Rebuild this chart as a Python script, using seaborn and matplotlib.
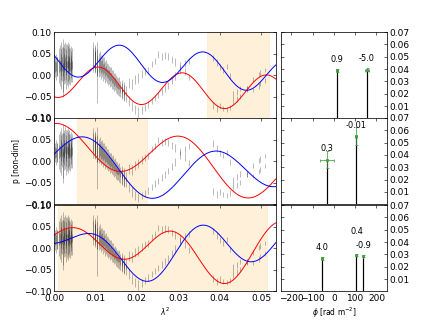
import numpy as np
import matplotlib
matplotlib.use("Agg")
import matplotlib.pyplot as plt
import seaborn as sns

# ---------------- data ----------------
# channel cluster 1
lam_c1 = [0.0002, 0.0005, 0.0008, 0.0012, 0.0014, 0.0016, 0.0018, 0.0019, 0.0021, 0.0022,
          0.0024, 0.0025, 0.0027, 0.0028, 0.0030, 0.0031, 0.0033, 0.0034, 0.0036, 0.0037,
          0.0039, 0.0040, 0.0042, 0.0044]
q_c1 = [0.025, 0.030, 0.020, 0.035, 0.040, 0.030, 0.045, 0.038, 0.050, 0.032,
        0.042, 0.036, 0.048, 0.040, 0.030, 0.044, 0.038, 0.046, 0.034, 0.042,
        0.036, 0.040, 0.030, 0.038]
u_c1 = [0.015, 0.010, 0.020, 0.010, 0.005, 0.020, 0.000, 0.015, -0.015, -0.005,
        0.020, 0.008, 0.012, 0.000, 0.018, 0.006, 0.014, 0.002, 0.016, 0.010,
        0.004, 0.012, 0.020, 0.008]
e_c1 = [0.018, 0.020, 0.022, 0.028, 0.030, 0.030, 0.032, 0.028, 0.035, 0.034,
        0.030, 0.028, 0.030, 0.032, 0.030, 0.028, 0.030, 0.030, 0.028, 0.030,
        0.026, 0.028, 0.026, 0.024]

# channel cluster 2
lam_c2 = [0.0095, 0.0098, 0.0100, 0.0103, 0.0105, 0.0108, 0.0110, 0.0113, 0.0115, 0.0118,
          0.0120, 0.0123, 0.0125, 0.0128, 0.0130, 0.0133, 0.0135, 0.0138, 0.0140, 0.0143,
          0.0145, 0.0148, 0.0150, 0.0153, 0.0155, 0.0158, 0.0160, 0.0163, 0.0165, 0.0168,
          0.0170, 0.0173]
q_c2 = [0.048, 0.040, 0.044, 0.036, 0.038, 0.030, 0.034, 0.026, 0.028, 0.022,
        0.024, 0.016, 0.018, 0.012, 0.010, 0.006, 0.002, 0.004, -0.004, -0.002,
        -0.010, -0.008, -0.014, -0.016, -0.020, -0.018, -0.026, -0.024, -0.030, -0.028,
        -0.034, -0.036]
u_c2 = [0.036, 0.030, 0.032, 0.022, -0.025, 0.018, 0.020, 0.012, 0.016, 0.006,
        0.010, 0.000, 0.004, -0.002, -0.006, -0.004, -0.012, -0.010, -0.016, -0.018,
        -0.022, -0.020, -0.028, -0.030, -0.032, -0.036, -0.038, -0.040, -0.044, -0.046,
        -0.048, -0.050]
e_c2 = [0.028, 0.026, 0.025, 0.024, 0.040, 0.022, 0.022, 0.021, 0.020, 0.020,
        0.019, 0.018, 0.018, 0.017, 0.017, 0.016, 0.016, 0.015, 0.015, 0.015,
        0.014, 0.014, 0.014, 0.013, 0.013, 0.013, 0.012, 0.012, 0.012, 0.012,
        0.011, 0.011]

# sparse channels
lam_s = [0.0180, 0.0188, 0.0196, 0.0203, 0.0212, 0.0220, 0.0226, 0.0236, 0.0244, 0.0252,
         0.0260, 0.0268, 0.0276, 0.0284, 0.0292, 0.0304, 0.0316, 0.0325, 0.0385, 0.0393,
         0.0401, 0.0409, 0.0417, 0.0425, 0.0433, 0.0441, 0.0449, 0.0465, 0.0481, 0.0494,
         0.0498, 0.0510]
q_s = [-0.018, -0.020, -0.010, -0.006, 0.002, 0.008, 0.012, 0.027, 0.034, 0.048,
       0.044, 0.046, 0.044, 0.036, 0.030, 0.022, 0.008, -0.004, -0.070, -0.078,
       -0.072, -0.077, -0.080, -0.074, -0.060, -0.055, -0.050, -0.030, -0.010, 0.002,
       0.005, 0.012]
u_s = [-0.060, -0.072, -0.080, -0.085, -0.080, -0.075, -0.068, -0.059, -0.052, -0.046,
       -0.038, -0.031, -0.023, -0.013, -0.002, 0.014, 0.027, 0.034, 0.040, 0.030,
       0.018, 0.012, 0.020, -0.002, -0.045, -0.038, -0.030, -0.032, -0.035, -0.025,
       -0.020, -0.012]
e_s = [0.012, 0.012, 0.011, 0.011, 0.009, 0.008, 0.008, 0.007, 0.007, 0.007,
       0.008, 0.008, 0.008, 0.008, 0.009, 0.009, 0.008, 0.007, 0.008, 0.008,
       0.007, 0.006, 0.006, 0.006, 0.008, 0.007, 0.006, 0.006, 0.005, 0.006,
       0.006, 0.005]

# Faraday components per panel: depth phi [rad m^-2], amplitude p, angle chi [rad]
phi_comp = [[12.5, 155.5], [-33.0, 102.0], [-56.0, 106.0, 137.0]]
amp_comp = [[0.0389, 0.0396], [0.0361, 0.0552], [0.0267, 0.0297, 0.0286]]
chi_comp = [[0.931, -4.827], [0.255, -0.013], [3.643, 0.276, -0.952]]
chi_labels = [["0.9", "-5.0"], ["0.3", "-0.01"], ["4.0", "0.4", "-0.9"]]
phi_err = [[5, 8], [31, 5], [3, 2, 2]]
amp_err = [[0.001, 0.001], [0.007, 0.0075], [0.001, 0.0007, 0.0007]]
fit_ranges = [(0.0370, 0.0520), (0.0055, 0.0225), (0.0010, 0.0515)]

# ---------------- style ----------------
sns.set_style("white")
plt.rcParams.update({
    "font.family": ["DejaVu Sans"],
    "text.color": "black", "axes.labelcolor": "black",
    "xtick.color": "black", "ytick.color": "black",
    "xtick.direction": "in", "ytick.direction": "in",
    "xtick.top": True, "ytick.right": True,
    "xtick.major.size": 4, "ytick.major.size": 4,
    "xtick.labelsize": 12, "ytick.labelsize": 12,
    "axes.linewidth": 1.0, "axes.edgecolor": "black",
})

fig = plt.figure(figsize=(8, 6), dpi=54)
lefts = [0.125, 0.650]
widths = [0.514, 0.246]
tops = [0.901, 0.636, 0.367]
h = 0.2663

lam_all = np.array(lam_c1 + lam_c2 + lam_s)
q_all = np.array(q_c1 + q_c2 + q_s)
u_all = np.array(u_c1 + u_c2 + u_s)
e_all = np.array(e_c1 + e_c2 + e_s)
grid = np.linspace(0, 0.0536, 600)
green = "#3f9f3f"

for row in range(3):
    axl = fig.add_axes([lefts[0], tops[row] - h, widths[0], h])
    axr = fig.add_axes([lefts[1], tops[row] - h, widths[1], h])
    lo, hi = fit_ranges[row]
    axl.axvspan(lo, hi, color="orange", alpha=0.15)
    axl.errorbar(lam_all, q_all, yerr=e_all, fmt="none", ecolor="black", alpha=0.35, elinewidth=1)
    axl.errorbar(lam_all, u_all, yerr=e_all, fmt="none", ecolor="black", alpha=0.35, elinewidth=1)

    P = np.zeros_like(grid, dtype=complex)
    for f, p, c in zip(phi_comp[row], amp_comp[row], chi_comp[row]):
        P += p * np.exp(2j * (c + f * grid))
    sns.lineplot(x=grid, y=P.real, ax=axl, color="red", lw=1.3)
    sns.lineplot(x=grid, y=P.imag, ax=axl, color="blue", lw=1.3)

    axl.set_xlim(0, 0.0536)
    axl.set_ylim(-0.1, 0.1)
    axl.set_yticks([-0.10, -0.05, 0.0, 0.05, 0.10])
    axl.set_yticklabels(["\u22120.10", "\u22120.05", "0.00", "0.05", "0.10"])
    axl.set_xticks([0, 0.01, 0.02, 0.03, 0.04, 0.05])
    if row == 2:
        axl.set_xticklabels(["0.00", "0.01", "0.02", "0.03", "0.04", "0.05"])
        axl.set_xlabel(r"$\lambda^2$", fontsize=10)
    else:
        axl.set_xticklabels([])
    if row == 1:
        axl.set_ylabel("p [non-dim]", fontsize=10)

    # right: Faraday components
    phis = phi_comp[row]
    amps = amp_comp[row]
    for f, p in zip(phis, amps):
        axr.plot([f, f], [0, p], color="black", lw=1.6)
    axr.errorbar(phis, amps, xerr=phi_err[row], yerr=amp_err[row],
                 fmt="s", ms=3, color=green, ecolor=green, capsize=2, elinewidth=1)
    for j, (f, p, lab) in enumerate(zip(phis, amps, chi_labels[row])):
        y = p + 0.009
        if j + 1 < len(phis) and abs(phis[j + 1] - f) < 60:
            y += 0.0095
        axr.text(f, y, lab, ha="center", va="center", fontsize=11)
    axr.set_xlim(-250, 250)
    axr.set_ylim(0, 0.07)
    axr.set_xticks([-200, -100, 0, 100, 200])
    axr.set_yticks([0.01, 0.02, 0.03, 0.04, 0.05, 0.06, 0.07])
    axr.yaxis.tick_right()
    axr.tick_params(axis="y", which="both", left=True, right=True)
    if row == 2:
        axr.set_xticklabels(["\u2212200", "\u2212100", "0", "100", "200"])
        axr.set_xlabel(r"$\phi$ [rad m$^{-2}$]", fontsize=10)
    else:
        axr.set_xticklabels([])

fig.savefig("out.png", dpi=54)
